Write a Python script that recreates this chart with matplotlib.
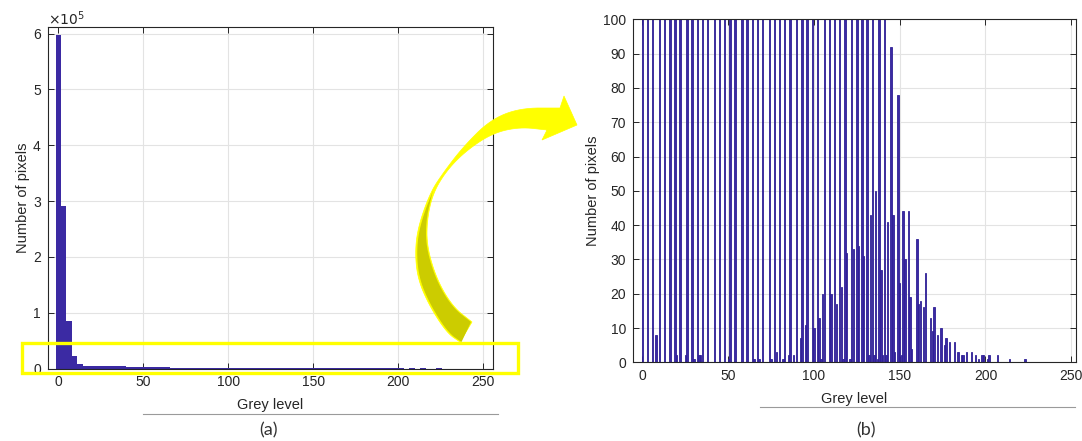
import numpy as np
import matplotlib
matplotlib.use("Agg")
import matplotlib.pyplot as plt
from matplotlib.patches import Polygon, Rectangle
from matplotlib.lines import Line2D

plt.rcParams['font.family'] = ['Liberation Sans', 'DejaVu Sans']

# ---- histogram data: grey level -> number of pixels ----
grey_levels = [
    0, 3, 6, 8, 10, 13, 16, 19, 20, 22, 25, 26, 29, 30, 32, 33, 34, 35, 38,
    42, 45, 48, 50, 51, 54, 58, 61, 64, 65, 67, 68, 70, 74, 75, 77, 78, 80,
    82, 83, 85, 86, 88, 90, 92, 93, 95, 96, 99, 100, 102, 103, 104, 105,
    106, 109, 110, 112, 113, 115, 116, 117, 118, 119, 121, 122, 123, 125,
    126, 128, 129, 131, 132, 133, 134, 135, 136, 137, 138, 139, 140, 141,
    142, 143, 145, 146, 147, 149, 150, 151, 152, 153, 155, 156, 157, 160,
    161, 162, 164, 165, 168, 169, 170, 172, 174, 176, 177, 179, 182, 184,
    186, 187, 189, 192, 194, 196, 198, 199, 201, 202, 207, 214, 223,
]
pixel_counts = [
    598000, 292000, 85000, 8, 22000, 8500, 5200, 5000, 2, 4800, 2, 4600,
    4200, 1, 4000, 2, 2, 3800, 3600,
    3100, 3000, 2900, 1, 2800, 2300, 2200, 2100, 2000, 1, 420, 1, 400, 390,
    1, 380, 3, 370,
    1, 360, 2, 350, 2, 340, 7, 330, 11, 320, 310, 10, 300, 13, 1, 20,
    290, 280, 20, 270, 17, 260, 22, 1, 250, 32, 1, 240, 33, 230,
    34, 220, 31, 210, 2, 43, 200, 2, 50, 1, 180, 27, 2, 160,
    2, 41, 92, 43, 3, 78, 23, 2, 44, 30, 44, 19, 4, 36,
    17, 18, 16, 26, 13, 9, 16, 8, 10, 5, 7, 6, 6, 3,
    2, 2, 3, 3, 2, 1, 2, 2, 1, 2, 2, 1, 1,
]

x_ticks = [0, 50, 100, 150, 200, 250]
y_ticks_a = [0, 1e5, 2e5, 3e5, 4e5, 5e5, 6e5]
y_tick_labels_a = ['0', '1', '2', '3', '4', '5', '6']
y_ticks_b = list(range(0, 101, 10))

W, H = 1082, 441
fig = plt.figure(figsize=(W / 100, H / 100), dpi=100)
fig.patch.set_facecolor('white')

TXT = '#262626'
BAR = '#3b2aa3'
GRID = '#e3e3e3'


def px_box(x0, y0, x1, y1):
    """Axes rectangle from pixel edges (y measured downwards)."""
    return [x0 / W, 1 - y1 / H, (x1 - x0) / W, (y1 - y0) / H]


def style_axes(ax):
    ax.set_axisbelow(True)
    ax.grid(True, color=GRID, linewidth=0.8)
    for s in ax.spines.values():
        s.set_color(TXT)
        s.set_linewidth(0.8)
    ax.tick_params(direction='in', top=True, right=True, length=4,
                   width=0.7, colors=TXT, labelsize=10, pad=5)
    for lab in ax.get_xticklabels() + ax.get_yticklabels():
        lab.set_color(TXT)


# ---- (a) full histogram ----
ax_a = fig.add_axes(px_box(47.7, 26.7, 492.7, 368.5))
edges = np.arange(-1.6, 256.1, 3.2)
ax_a.hist(grey_levels, bins=edges, weights=pixel_counts, color=BAR,
          edgecolor='none', linewidth=0)
ax_a.set_xlim(-6.2, 255.5)
ax_a.set_ylim(0, 6.125e5)
ax_a.set_xticks(x_ticks)
ax_a.set_yticks(y_ticks_a)
ax_a.set_yticklabels(y_tick_labels_a)
style_axes(ax_a)
ax_a.set_xlabel('Grey level', fontsize=10.5, color=TXT, labelpad=6)
ax_a.set_ylabel('Number of pixels', fontsize=10.5, color=TXT, labelpad=2)
fig.text(48 / W, 1 - 19 / H, r'$\times10^{5}$', fontsize=10, color=TXT,
         va='center', ha='left')

# ---- (b) zoom on the low counts ----
ax_b = fig.add_axes(px_box(633, 19.3, 1075.7, 362.3))
ax_b.bar(grey_levels, pixel_counts, width=0.8, color=BAR,
         edgecolor='#2f1f96', linewidth=0.6)
ax_b.set_xlim(-5.5, 252.6)
ax_b.set_ylim(0, 100)
ax_b.set_xticks(x_ticks)
ax_b.set_yticks(y_ticks_b)
style_axes(ax_b)
ax_b.set_xlabel('Grey level', fontsize=10.5, color=TXT, labelpad=6)
ax_b.set_ylabel('Number of pixels', fontsize=10.5, color=TXT, labelpad=2)

# ---- captions and separator lines ----
fig.text(269 / W, 1 - 430 / H, '(a)', fontsize=13, color='#333333',
         ha='center', va='center', family=['Lato', 'DejaVu Sans'])
fig.text(866 / W, 1 - 430 / H, '(b)', fontsize=13, color='#333333',
         ha='center', va='center', family=['Lato', 'DejaVu Sans'])
fig.add_artist(Line2D([143 / W, 498 / W], [1 - 414 / H, 1 - 414 / H],
                      color='#9a9a9a', linewidth=0.8))
fig.add_artist(Line2D([760 / W, 1075 / W], [1 - 407 / H, 1 - 407 / H],
                      color='#9a9a9a', linewidth=0.8))


# ---- yellow highlight box and curved arrow (pixel coordinates) ----
def to_fig(pts):
    pts = np.asarray(pts, dtype=float)
    return np.column_stack([pts[:, 0] / W, 1 - pts[:, 1] / H])


def smooth(pts, n=3):
    pts = np.asarray(pts, dtype=float)
    for _ in range(n):
        q = 0.75 * pts[:-1] + 0.25 * pts[1:]
        r = 0.25 * pts[:-1] + 0.75 * pts[1:]
        mid = np.empty((2 * len(q), 2))
        mid[0::2] = q
        mid[1::2] = r
        pts = np.vstack([pts[0], mid, pts[-1]])
    return pts


fig.add_artist(Rectangle((22 / W, 1 - 373 / H), (518 - 22) / W, 30 / H,
                         transform=fig.transFigure, fill=False,
                         edgecolor='#ffff00', linewidth=2.4, zorder=10))

outer = smooth([(560, 108), (520, 108), (490, 120), (463, 147), (443, 173),
                (430, 193), (418, 227), (415, 253), (418, 280), (430, 307),
                (447, 333), (460, 342)])
inner = smooth([(472, 322), (453, 307), (437, 280), (427, 247), (427, 220),
                (433, 193), (447, 170), (467, 150), (493, 133), (520, 127),
                (547, 130)])
head = np.array([(547, 130), (542, 140), (577, 125), (564, 96), (560, 108)])
arrow_pts = np.vstack([outer, inner, head])
fig.add_artist(Polygon(to_fig(arrow_pts), closed=True, transform=fig.transFigure,
                       facecolor='#ffff00', edgecolor='#ffff00', linewidth=0.5,
                       zorder=11))

# shaded underside of the ribbon
lower_outer = outer[outer[:, 1] >= 196]
lower_inner = inner[inner[:, 1] >= 205]
shade = np.vstack([lower_outer + np.array([1.5, 0]), lower_inner[:-1] - np.array([1.0, 0]),
                   [(433, 190)]])
fig.add_artist(Polygon(to_fig(shade), closed=True, transform=fig.transFigure,
                       facecolor='#cccc00', edgecolor='none', zorder=12))

fig.savefig('out.png', dpi=100, facecolor='white')
